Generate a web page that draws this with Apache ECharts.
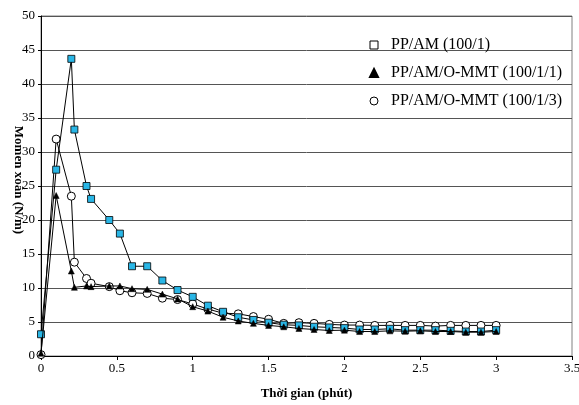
<!DOCTYPE html>
<html>
<head>
<meta charset="utf-8">
<script src="https://cdn.jsdelivr.net/npm/echarts@6/dist/echarts.min.js"></script>
<style>html,body{margin:0;padding:0;background:#fff;}#c{width:579px;height:405px;}</style>
</head>
<body>
<div id="c"></div>
<script>
const times = [0, 0.1, 0.2, 0.22, 0.3, 0.33, 0.45, 0.52, 0.6, 0.7, 0.8, 0.9, 1.0, 1.1, 1.2, 1.3, 1.4, 1.5, 1.6, 1.7, 1.8, 1.9, 2.0, 2.1, 2.2, 2.3, 2.4, 2.5, 2.6, 2.7, 2.8, 2.9, 3.0];
const ppAm = [3.2, 27.4, 43.7, 33.3, 25.0, 23.1, 20.0, 18.0, 13.2, 13.2, 11.1, 9.7, 8.7, 7.4, 6.5, 5.7, 5.3, 4.9, 4.6, 4.5, 4.3, 4.2, 4.1, 3.9, 3.9, 4.0, 3.8, 3.8, 3.8, 3.7, 3.6, 3.6, 3.8];
const ppAmMmt1 = [0.4, 23.6, 12.5, 10.1, 10.3, 10.2, 10.3, 10.3, 9.9, 9.8, 9.1, 8.4, 7.25, 6.6, 5.7, 5.15, 4.8, 4.5, 4.3, 4.05, 3.9, 3.75, 3.8, 3.6, 3.6, 3.7, 3.65, 3.7, 3.6, 3.6, 3.5, 3.5, 3.6];
const ppAmMmt3 = [0.2, 31.9, 23.5, 13.8, 11.4, 10.7, 10.2, 9.6, 9.3, 9.2, 8.5, 8.3, 7.65, 6.9, 6.3, 6.2, 5.8, 5.4, 4.8, 4.9, 4.8, 4.65, 4.55, 4.55, 4.5, 4.5, 4.5, 4.5, 4.4, 4.5, 4.5, 4.5, 4.5];
const seriesNames = ['PP/AM (100/1)', 'PP/AM/O-MMT (100/1/1)', 'PP/AM/O-MMT (100/1/3)'];
const xTitle = 'Thời gian (phút)';
const yTitle = 'Momen xoắn (N/m)';

const FONT = '"Liberation Serif", "DejaVu Serif", serif';
function pairs(ys){ return times.map((t,i)=>[t, ys[i]]); }

const chart = echarts.init(document.getElementById('c'), null, {renderer:'canvas'});
chart.setOption({
  animation: false,
  backgroundColor: '#fff',
  textStyle: {fontFamily: FONT},
  grid: {left: 41, right: 7, top: 16, bottom: 49, show: true, borderColor: '#808080', borderWidth: 1,
         containLabel: false, outerBoundsMode: 'none'},
  legend: {
    orient: 'vertical', left: 364, top: 32,
    itemWidth: 8, itemHeight: 8, itemGap: 12,
    textStyle: {fontFamily: FONT, fontSize: 16, color: '#000', padding: [0,0,0,8]},
    data: [
      {name: seriesNames[0], icon: 'rect', itemStyle: {color: '#fff', borderColor: '#000', borderWidth: 1}},
      {name: seriesNames[1], icon: 'triangle', itemStyle: {color: '#000', borderColor: '#000'}},
      {name: seriesNames[2], icon: 'circle', itemStyle: {color: '#fff', borderColor: '#000', borderWidth: 1}}
    ]
  },
  xAxis: {
    type: 'value', min: 0, max: 3.5, interval: 0.5,
    name: xTitle, nameLocation: 'middle', nameGap: 31,
    nameTextStyle: {fontFamily: FONT, fontSize: 13, fontWeight: 'bold', color: '#000'},
    axisLine: {show: true, onZero: false, lineStyle: {color: '#000', width: 1}},
    axisTick: {show: true, inside: false, length: 4, lineStyle: {color: '#000'}},
    axisLabel: {fontFamily: FONT, fontSize: 13, color: '#000', margin: 6},
    splitLine: {show: false}
  },
  yAxis: {
    type: 'value', min: 0, max: 50, interval: 5,
    name: yTitle, nameLocation: 'middle', nameGap: 16, nameRotate: -90, nameMoveOverlap: false,
    nameTextStyle: {fontFamily: FONT, fontSize: 13, fontWeight: 'bold', color: '#000', padding: [0, 12, 0, 0]},
    axisLine: {show: true, lineStyle: {color: '#000', width: 1}},
    axisTick: {show: true, inside: false, length: 3, lineStyle: {color: '#000'}},
    axisLabel: {fontFamily: FONT, fontSize: 13, color: '#000', margin: 6},
    splitLine: {show: true, lineStyle: {color: '#555', width: 1}}
  },
  series: [
    {name: seriesNames[0], type: 'line', data: pairs(ppAm), symbol: 'rect', symbolSize: 7,
     lineStyle: {color: '#000', width: 1}, itemStyle: {color: '#29B6E6', borderColor: '#000', borderWidth: 0.8}, z: 3},
    {name: seriesNames[1], type: 'line', data: pairs(ppAmMmt1), symbol: 'triangle', symbolSize: 6,
     lineStyle: {color: '#000', width: 1}, itemStyle: {color: '#000', borderColor: '#000', borderWidth: 0.5}, z: 4},
    {name: seriesNames[2], type: 'line', data: pairs(ppAmMmt3), symbol: 'circle', symbolSize: 8,
     lineStyle: {color: '#000', width: 1}, itemStyle: {color: '#fff', borderColor: '#000', borderWidth: 1}, z: 2}
  ]
});
</script>
</body>
</html>
